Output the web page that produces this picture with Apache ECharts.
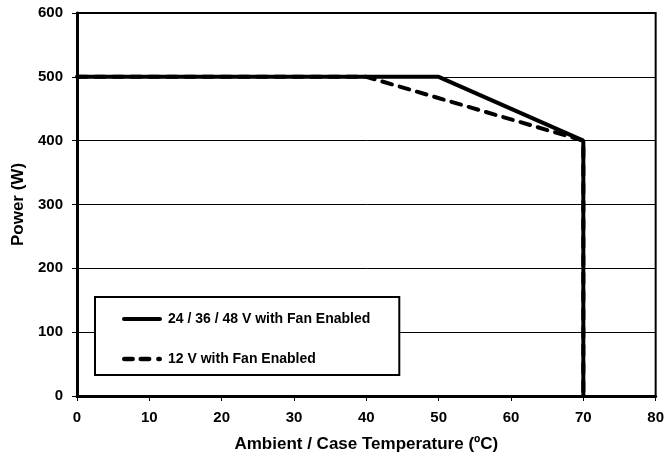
<!DOCTYPE html>
<html><head><meta charset="utf-8">
<script src="https://cdn.jsdelivr.net/npm/echarts@6/dist/echarts.min.js"></script>
<style>html,body{margin:0;padding:0;background:#fff}#c{width:667px;height:459px}</style>
</head><body><div id="c"></div>
<script>
const seriesNames = ['24 / 36 / 48 V with Fan Enabled', '12 V with Fan Enabled'];
const tempHigh = [0, 50, 70, 70];
const powerHigh = [500, 500, 400, 0];
const temp12 = [0, 40, 70, 70];
const power12 = [500, 500, 400, 0];
const xTitle = 'Ambient / Case Temperature (ºC)';
const yTitle = 'Power (W)';

const font = 'Liberation Sans, Arial, sans-serif';
const chart = echarts.init(document.getElementById('c'), null, {renderer: 'canvas'});
chart.setOption({
  animation: false,
  backgroundColor: '#fff',
  grid: {left: 77, right: 10, top: 13, bottom: 63, show: true, borderColor: '#000', borderWidth: 2},
  legend: {
    orient: 'vertical', left: 95, top: 297,
    data: [
      {name: seriesNames[0], icon: 'path://M2,0h36a2,2 0 0 1 0,4h-36a2,2 0 0 1 0,-4z'},
      {name: seriesNames[1], icon: 'path://M2,0h7a2,2 0 0 1 0,4h-7a2,2 0 0 1 0,-4z M16,0h7a2,2 0 0 1 0,4h-7a2,2 0 0 1 0,-4z M31,0h1a2,2 0 0 1 0,4h-1a2,2 0 0 1 0,-4z'}
    ],
    borderColor: '#000', borderWidth: 2, borderRadius: 0,
    padding: [15, 29, 9, 27],
    itemWidth: 40, itemHeight: 5, itemGap: 26,
    itemStyle: {color: '#000'},
    textStyle: {fontFamily: font, fontWeight: 'bold', fontSize: 14, color: '#000', padding: [0, 0, 0, 1]},
    backgroundColor: '#fff'
  },
  xAxis: {
    type: 'value', min: 0, max: 80, interval: 10,
    name: xTitle, nameLocation: 'middle', nameGap: 48, nameMoveOverlap: false,
    nameTextStyle: {fontFamily: font, fontWeight: 'bold', fontSize: 17, color: '#000', verticalAlign: 'middle'},
    axisLine: {lineStyle: {color: '#000', width: 3}},
    axisTick: {show: true, length: 5, lineStyle: {color: '#000', width: 1}},
    axisLabel: {fontFamily: font, fontWeight: 'bold', fontSize: 15, color: '#000', margin: 14},
    splitLine: {show: false}
  },
  yAxis: {
    type: 'value', min: 0, max: 600, interval: 100,
    name: yTitle, nameLocation: 'middle', nameGap: 50, nameRotate: 90,
    nameTextStyle: {fontFamily: font, fontWeight: 'bold', fontSize: 17, color: '#000'},
    axisLine: {show: true, lineStyle: {color: '#000', width: 3}},
    axisTick: {show: true, length: 5, lineStyle: {color: '#000', width: 1}},
    axisLabel: {fontFamily: font, fontWeight: 'bold', fontSize: 15, color: '#000', margin: 14},
    splitLine: {show: true, lineStyle: {color: '#000', width: 1}}
  },
  series: [
    {
      name: seriesNames[1], type: 'line', symbol: 'none', z: 3,
      data: temp12.map((t, i) => [t, power12[i]]),
      lineStyle: {color: '#000', width: 4, type: [10, 8], cap: 'round'},
      itemStyle: {color: '#000'}
    },
    {
      name: seriesNames[0], type: 'line', symbol: 'none', z: 4,
      data: tempHigh.map((t, i) => [t, powerHigh[i]]),
      lineStyle: {color: '#000', width: 4},
      itemStyle: {color: '#000'}
    }
  ]
});
</script></body></html>
